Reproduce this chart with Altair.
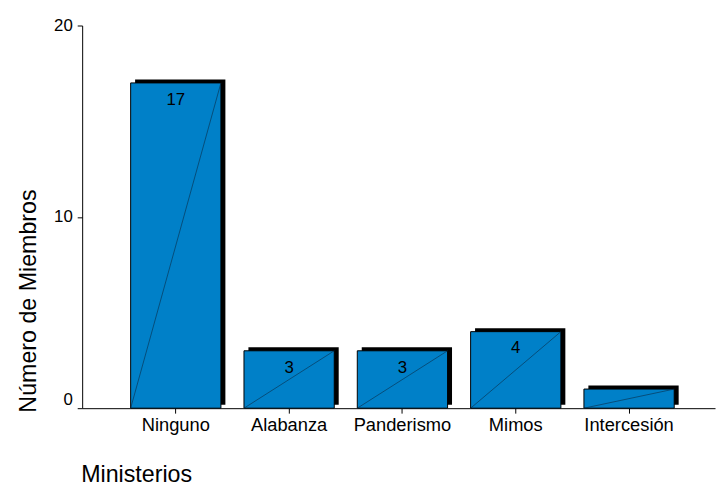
import altair as alt
import pandas as pd

# Data
categorias = ["Ninguno", "Alabanza", "Panderismo", "Mimos", "Intercesión"]
miembros = [17, 3, 3, 4, 1]
etiquetas = ["17", "3", "3", "4", ""]
ceros = [0, 0, 0, 0, 0]

df = pd.DataFrame({"cat": categorias, "n": miembros, "lab": etiquetas, "cero": ceros})

FONT = "Liberation Sans"
BLUE = "#0080C8"

xscale = alt.Scale(domain=categorias, paddingInner=0.2033, paddingOuter=0.394, align=0.543)
yscale = alt.Scale(domain=[0, 20])

x_axis = alt.Axis(
    labelAngle=0, labelFont=FONT, labelFontSize=18.5, labelColor="black", labelPadding=3,
    tickColor="black", tickSize=5, domainColor="black", domainWidth=1, grid=False,
    title="Ministerios", titleFont=FONT, titleFontSize=23.5, titleFontWeight="normal",
    titleColor="black", titleAnchor="start", titleAlign="left", titleBaseline="alphabetic",
    titleX=-1.5, titleY=74,
)
y_axis = alt.Axis(
    values=[0, 10, 20], labelFont=FONT, labelFontSize=17, labelColor="black", labelPadding=5,
    labelBaseline={"condition": {"test": "datum.value == 0", "value": "bottom"}, "value": "middle"},
    tickColor="black", tickSize=5, domainColor="black", domainWidth=1, grid=False,
    title="Número de Miembros", titleFont=FONT, titleFontSize=23.5, titleFontWeight="normal",
    titleColor="black", titleAngle=270, titleAlign="left", titleBaseline="alphabetic",
    titleX=-47, titleY=391,
)


def X(**kw):
    return alt.X("cat:N", scale=xscale, sort=categorias, axis=x_axis, **kw)


def Y(field="n:Q"):
    return alt.Y(field, scale=yscale, axis=y_axis)


base = alt.Chart(df)

shadow = base.mark_bar(color="black", xOffset=4.5, yOffset=-3.5).encode(x=X(), y=Y())

bars = base.mark_bar(color=BLUE, stroke="black", strokeWidth=1).encode(x=X(), y=Y())

diag = base.mark_rule(color="#0a2a45", strokeWidth=0.6).encode(
    x=X(bandPosition=0),
    x2=alt.X2("cat", bandPosition=1),
    y=Y("cero:Q"),
    y2=alt.Y2("n"),
)

text = base.mark_text(font=FONT, fontSize=17, color="black", baseline="middle", dy=17).encode(
    x=X(), y=Y(), text="lab:N",
)

chart = (
    alt.layer(shadow, bars, diag, text)
    .properties(
        width=640, height=387,
        autosize=alt.AutoSizeParams(type="none"),
        padding={"left": 75, "top": 15, "right": 2, "bottom": 78},
    )
    .configure(background="white")
    .configure_view(stroke="transparent", strokeWidth=0)
)

chart.save("out.html", embed_options={"renderer": "svg", "actions": False})
